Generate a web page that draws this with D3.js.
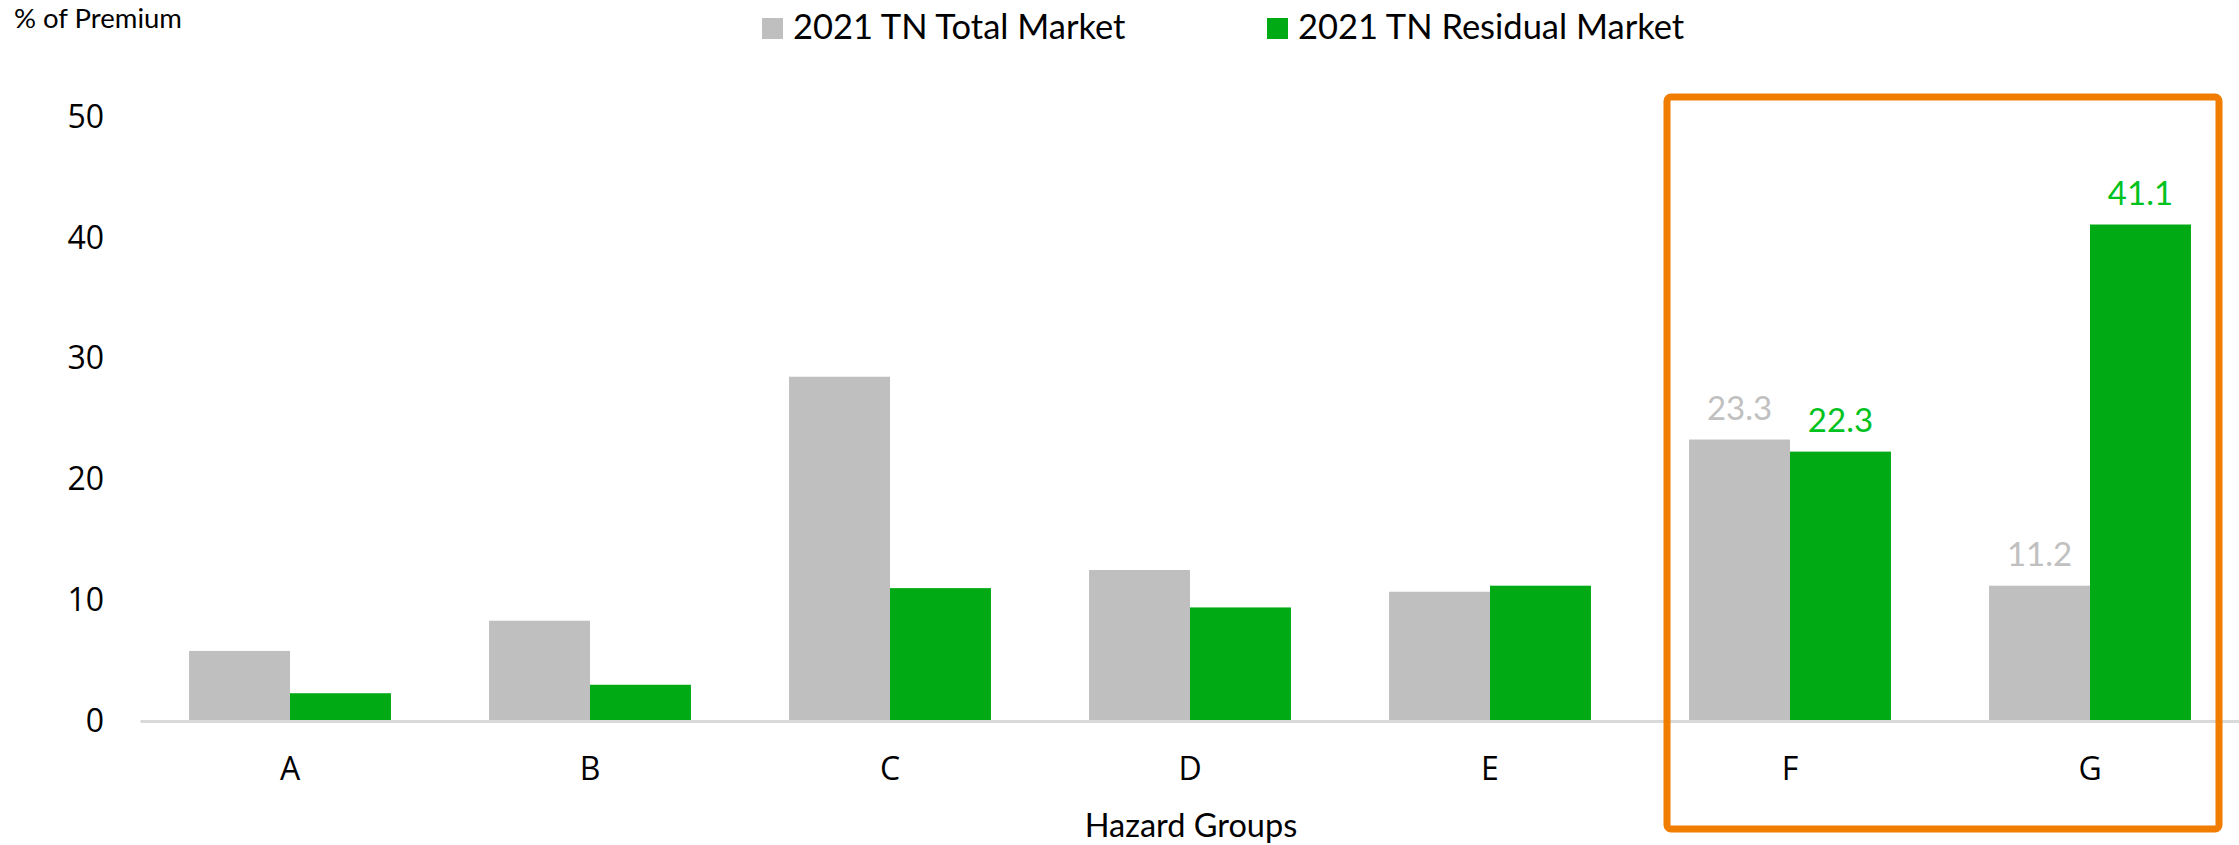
<!DOCTYPE html>
<html>
<head>
<meta charset="utf-8">
<script src="https://cdn.jsdelivr.net/npm/d3@7"></script>
<style>
  body { margin: 0; background: #fff; }
  svg { display: block; }
</style>
</head>
<body>
<svg></svg>
<script>
// hazard groups and the two series (% of premium)
var groups = ["A", "B", "C", "D", "E", "F", "G"];
var seriesNames = ["2021 TN Total Market", "2021 TN Residual Market"];
var totalMarket = [5.8, 8.3, 28.5, 12.5, 10.7, 23.3, 11.2];
var residualMarket = [2.3, 3.0, 11.0, 9.4, 11.2, 22.3, 41.1];
var yTicks = [0, 10, 20, 30, 40, 50];
// which groups get value labels (the highlighted ones)
var labelled = ["F", "G"];

var W = 2239, H = 845;
var pic = d3.select('svg').attr('width', W).attr('height', H);

var barColors = ["#bfbfbf", "#00aa14"];
var labelColors = ["#c0c0c0", "#00c21e"];

// scales
var x = d3.scaleBand().domain(groups).range([140, 2240])
  .paddingInner(0.327).paddingOuter(0.1635);
var xs = d3.scaleBand().domain([0, 1]).range([0, x.bandwidth()]);
var y = d3.scaleLinear().domain([0, 50]).range([721, 117]);

// y axis labels (no line, no ticks)
var yAxis = pic.append("g").attr("transform", "translate(104,0)")
  .call(d3.axisLeft(y).tickValues(yTicks).tickSize(0).tickPadding(0));
yAxis.select(".domain").remove();
yAxis.selectAll("text")
  .attr("font-family", "'Open Sans', sans-serif").attr("font-size", 32)
  .attr("fill", "#000");

// bars
var rows = groups.map(function(g, i){ return {g: g, v: [totalMarket[i], residualMarket[i]]}; });
var grp = pic.selectAll("g.grp").data(rows).enter().append("g")
  .attr("class", "grp")
  .attr("transform", function(d){ return "translate(" + x(d.g) + ",0)"; });
grp.selectAll("rect").data(function(d){ return d.v; }).enter().append("rect")
  .attr("x", function(d, i){ return xs(i); })
  .attr("width", xs.bandwidth())
  .attr("y", function(d){ return y(d); })
  .attr("height", function(d){ return y(0) - y(d); })
  .attr("fill", function(d, i){ return barColors[i]; });

// value labels on F and G
grp.filter(function(d){ return labelled.indexOf(d.g) >= 0; })
  .selectAll("text").data(function(d){ return d.v; }).enter().append("text")
  .attr("x", function(d, i){ return xs(i) + xs.bandwidth() / 2; })
  .attr("y", function(d){ return y(d) - 20; })
  .attr("text-anchor", "middle")
  .attr("font-family", "Lato, sans-serif").attr("font-size", 33)
  .attr("fill", function(d, i){ return labelColors[i]; })
  .text(function(d){ return d.toFixed(1); });

// x axis line + category labels
var xAxis = pic.append("g").attr("transform", "translate(0," + y(0) + ")")
  .call(d3.axisBottom(x).tickSize(0).tickPadding(0));
xAxis.select(".domain").attr("stroke", "#d9d9d9").attr("stroke-width", 3);
xAxis.selectAll("text")
  .attr("dy", null).attr("y", 59)
  .attr("font-family", "'Open Sans', sans-serif").attr("font-size", 32)
  .attr("fill", "#000");

// axis titles
pic.append("text")
  .attr("x", 14).attr("y", 28)
  .attr("font-family", "Lato, sans-serif").attr("font-size", 27.5)
  .text("% of Premium");
pic.append("text")
  .attr("x", 1191).attr("y", 837).attr("text-anchor", "middle")
  .attr("font-family", "Lato, sans-serif").attr("font-size", 32.5)
  .text("Hazard Groups");

// legend
var legendX = [762, 1267];
var leg = pic.selectAll("g.leg").data(seriesNames).enter().append("g")
  .attr("class", "leg")
  .attr("transform", function(d, i){ return "translate(" + legendX[i] + ",18)"; });
leg.append("rect").attr("width", 21).attr("height", 21)
  .attr("fill", function(d, i){ return barColors[i]; });
leg.append("text").attr("x", 31).attr("y", 21)
  .attr("font-family", "Lato, sans-serif").attr("font-size", 34.5)
  .text(function(d){ return d; });

// orange highlight box around F and G
pic.append("rect")
  .attr("x", 1667).attr("y", 97).attr("width", 552).attr("height", 732)
  .attr("rx", 4)
  .attr("fill", "none").attr("stroke", "#f07d00").attr("stroke-width", 7);
</script>
</body>
</html>
